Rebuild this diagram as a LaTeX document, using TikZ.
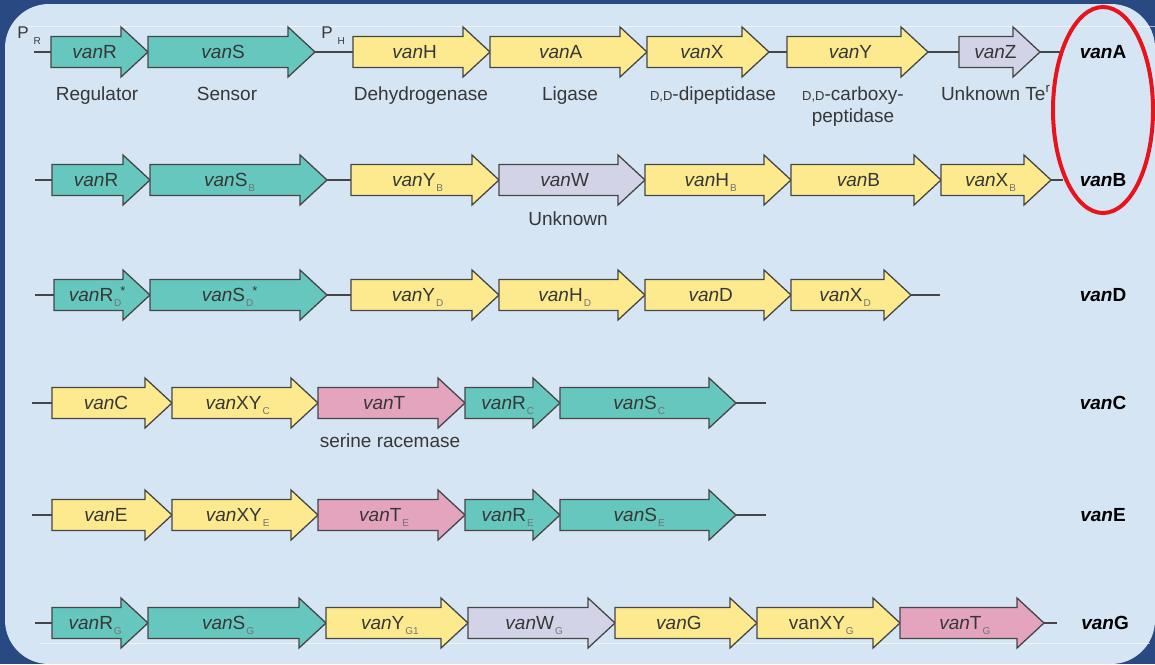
\documentclass[tikz,border=0pt]{standalone}
\usepackage{fontspec}
\setmainfont{Liberation Sans}

\definecolor{slideblue}{RGB}{41,73,130}
\definecolor{panel}{RGB}{214,229,244}
\definecolor{tealgene}{RGB}{102,199,190}
\definecolor{yellowgene}{RGB}{253,234,142}
\definecolor{lavgene}{RGB}{211,211,232}
\definecolor{pinkgene}{RGB}{228,164,190}
\definecolor{geneedge}{RGB}{70,70,70}
\definecolor{txtgray}{RGB}{55,55,55}
\definecolor{subgray}{RGB}{115,115,115}
\definecolor{ringred}{RGB}{232,20,28}

\newcommand{\genefont}{\fontsize{9.5}{11}\selectfont}
\newcommand{\van}{\textit{van}}
\newcommand{\gsub}[1]{\kern0.5pt\raisebox{-2.5pt}{\fontsize{5}{6}\selectfont\color{subgray}#1}}
\newcommand{\gstar}{\kern-0.5pt\raisebox{3pt}{\fontsize{6.5}{7}\selectfont *}}

\tikzset{
  gene/.style={draw=geneedge, line width=0.65pt, line join=miter},
  spacer/.style={draw=geneedge, line width=0.75pt},
  genename/.style={font=\genefont, text=txtgray, inner sep=0pt, anchor=base},
  role/.style={font=\genefont, text=txtgray, inner sep=0pt, anchor=base},
  promoter/.style={font=\fontsize{8.5}{9}\selectfont, text=txtgray, inner sep=0pt, anchor=base west},
  cluster/.style={font=\genefont\bfseries, text=black, inner sep=0pt, anchor=base},
}

% gene arrow: name, left x, tip x, y, fill, label
\newcommand{\gene}[6]{%
  \filldraw[gene, fill=#5] (#2,#4-15.5) -- (#3-27,#4-15.5) -- (#3-27,#4-25)
    -- (#3,#4) -- (#3-27,#4+25) -- (#3-27,#4+15.5) -- (#2,#4+15.5) -- cycle;
  \coordinate (#1-in) at (#2,#4);
  \coordinate (#1-out) at (#3,#4);
  \node[genename] (#1) at ({#2+0.45*(#3-#2)},#4+6.5) {#6};
}

\begin{document}
\begin{tikzpicture}[x=0.5pt,y=-0.5pt]
\useasboundingbox (0,0) rectangle (1155,664);
\fill[slideblue] (0,0) rectangle (1155,664);
\fill[panel, rounded corners=22pt] (5,4) rectangle (1155,664);
\draw[white, opacity=.6, line width=0.4pt] (17,26) -- (1155,26);
\draw[white, opacity=.6, line width=0.4pt] (40,643) -- (1150,643);

% vanA
\coordinate (aStart) at (34,52);
\coordinate (aEnd) at (1060,52);
\gene{aR}{51}{148}{52}{tealgene}{\van R}
\gene{aS}{148}{315}{52}{tealgene}{\van S}
\gene{aH}{353}{490}{52}{yellowgene}{\van H}
\gene{aA}{490}{647}{52}{yellowgene}{\van A}
\gene{aX}{647}{769}{52}{yellowgene}{\van X}
\gene{aY}{787}{928}{52}{yellowgene}{\van Y}
\gene{aZ}{959}{1040}{52}{lavgene}{\van Z}
\draw[spacer] (aStart) -- (aR-in);
\draw[spacer] (aS-out) -- (aH-in);
\draw[spacer] (aX-out) -- (aY-in);
\draw[spacer] (aY-out) -- (aZ-in);
\draw[spacer] (aZ-out) -- (aEnd);
\node[promoter] (pR) at (17,39) {P\hspace{2.5pt}\raisebox{-2.5pt}{\fontsize{5}{6}\selectfont R}};
\node[promoter] (pH) at (321,39) {P\hspace{2.5pt}\raisebox{-2.5pt}{\fontsize{5}{6}\selectfont H}};
\node[role] (regulator) at (97,100) {Regulator};
\node[role] (sensor) at (227,100) {Sensor};
\node[role] (dehydro) at (421,100) {Dehydrogenase};
\node[role] (ligase) at (570,100) {Ligase};
\node[role] (dipept) at (713,100) {{\fontsize{6.5}{7}\selectfont D,D}-dipeptidase};
\node[role] (carboxy) at (853,100) {{\fontsize{6.5}{7}\selectfont D,D}-carboxy-};
\node[role] (peptidase) at (853,122) {peptidase};
\node[role] (unknownA) at (996,100) {Unknown Te\textsuperscript{r}};
\node[cluster] (vanA) at (1103,58.5) {\textit{van}A};

% vanB
\coordinate (bStart) at (35,180);
\coordinate (bEnd) at (1063,180);
\gene{bR}{52}{150}{180}{tealgene}{\van R}
\gene{bS}{150}{327}{180}{tealgene}{\van S\gsub{B}}
\gene{bY}{351}{499}{180}{yellowgene}{\van Y\gsub{B}}
\gene{bW}{499}{645}{180}{lavgene}{\van W}
\gene{bH}{645}{791}{180}{yellowgene}{\van H\gsub{B}}
\gene{bB}{791}{941}{180}{yellowgene}{\van B}
\gene{bX}{941}{1051}{180}{yellowgene}{\van X\gsub{B}}
\draw[spacer] (bStart) -- (bR-in);
\draw[spacer] (bS-out) -- (bY-in);
\draw[spacer] (bX-out) -- (bEnd);
\node[role] (unknownB) at (568,225) {Unknown};
\node[cluster] (vanB) at (1103,186.5) {\textit{van}B};

% vanD
\coordinate (dStart) at (35,295);
\coordinate (dEnd) at (940,295);
\gene{dR}{54}{150}{295}{tealgene}{\van R\gsub{D}\gstar}
\gene{dS}{150}{327}{295}{tealgene}{\van S\gsub{D}\gstar}
\gene{dY}{351}{499}{295}{yellowgene}{\van Y\gsub{D}}
\gene{dH}{499}{645}{295}{yellowgene}{\van H\gsub{D}}
\gene{dD}{645}{791}{295}{yellowgene}{\van D}
\gene{dX}{791}{911}{295}{yellowgene}{\van X\gsub{D}}
\draw[spacer] (dStart) -- (dR-in);
\draw[spacer] (dS-out) -- (dY-in);
\draw[spacer] (dX-out) -- (dEnd);
\node[cluster] (vanD) at (1103,301.5) {\textit{van}D};

% vanC
\coordinate (cStart) at (32,403);
\coordinate (cEnd) at (766,403);
\gene{cC}{52}{172}{403}{yellowgene}{\van C}
\gene{cXY}{172}{318}{403}{yellowgene}{\van XY\gsub{C}}
\gene{cT}{318}{465}{403}{pinkgene}{\van T}
\gene{cR}{465}{560}{403}{tealgene}{\van R\gsub{C}}
\gene{cS}{560}{736}{403}{tealgene}{\van S\gsub{C}}
\draw[spacer] (cStart) -- (cC-in);
\draw[spacer] (cS-out) -- (cEnd);
\node[role] (racemase) at (390,447) {serine racemase};
\node[cluster] (vanC) at (1103,409.5) {\textit{van}C};

% vanE
\coordinate (eStart) at (32,515);
\coordinate (eEnd) at (766,515);
\gene{eE}{52}{172}{515}{yellowgene}{\van E}
\gene{eXY}{172}{318}{515}{yellowgene}{\van XY\gsub{E}}
\gene{eT}{318}{465}{515}{pinkgene}{\van T\gsub{E}}
\gene{eR}{465}{560}{515}{tealgene}{\van R\gsub{E}}
\gene{eS}{560}{736}{515}{tealgene}{\van S\gsub{E}}
\draw[spacer] (eStart) -- (eE-in);
\draw[spacer] (eS-out) -- (eEnd);
\node[cluster] (vanE) at (1103,521.5) {\textit{van}E};

% vanG
\coordinate (gStart) at (35,623);
\coordinate (gEnd) at (1057,623);
\gene{gR}{52}{148}{623}{tealgene}{\van R\gsub{G}}
\gene{gS}{148}{326}{623}{tealgene}{\van S\gsub{G}}
\gene{gY}{326}{468}{623}{yellowgene}{\van Y\gsub{G1}}
\gene{gW}{468}{615}{623}{lavgene}{\van W\gsub{G}}
\gene{gG}{615}{757}{623}{yellowgene}{\van G}
\gene{gXY}{757}{900}{623}{yellowgene}{vanXY\gsub{G}}
\gene{gT}{900}{1044}{623}{pinkgene}{\van T\gsub{G}}
\draw[spacer] (gStart) -- (gR-in);
\draw[spacer] (gT-out) -- (gEnd);
\node[cluster] (vanG) at (1105,629.5) {\textit{van}G};

% highlight ring
\draw[ringred, line width=2pt] (1103,110) ellipse [x radius=50, y radius=103];
\end{tikzpicture}
\end{document}
